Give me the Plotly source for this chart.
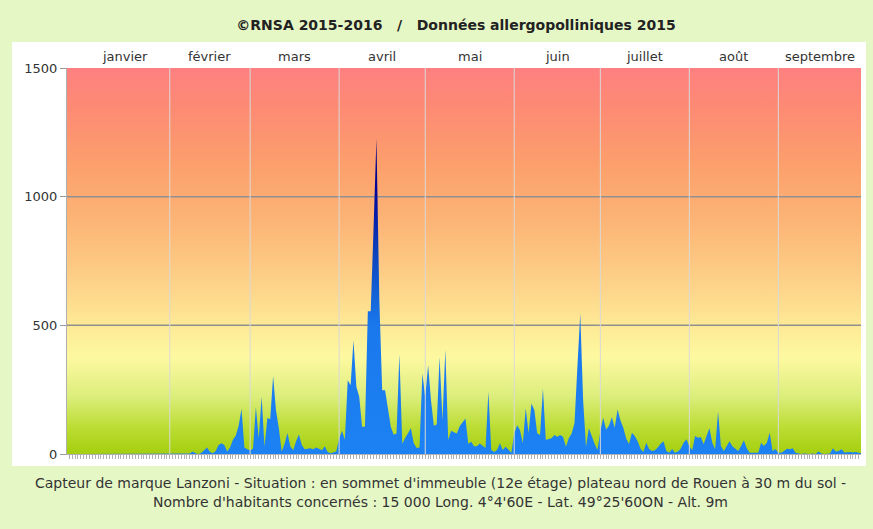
import pandas as pd
import plotly.graph_objects as go

# Daily pollen counts (grains/m3), 2015, one list per month
janvier = [0] * 31
fevrier = [0, 0, 0, 0, 0, 0, 0, 2, 10, 3, 0, 5, 15, 25, 8, 3, 12, 35, 42, 35,
           10, 25, 55, 72, 110, 175, 25, 18]
mars = [15, 20, 183, 60, 222, 28, 140, 135, 303, 170, 100, 10, 40, 82, 30, 15,
        50, 76, 35, 18, 20, 22, 18, 25, 20, 15, 30, 8, 3, 5, 10]
avril = [60, 90, 55, 287, 267, 442, 261, 222, 106, 106, 555, 555, 880, 1225,
         600, 248, 248, 170, 106, 75, 80, 388, 40, 62, 80, 100, 42, 23, 25, 313]
mai = [220, 345, 209, 110, 115, 377, 130, 405, 54, 90, 85, 80, 108, 125, 138,
       40, 48, 30, 30, 41, 30, 23, 242, 16, 8, 16, 42, 16, 28, 18, 5]
juin = [80, 112, 93, 42, 178, 81, 196, 171, 81, 74, 255, 54, 58, 61, 74, 67,
        74, 67, 28, 61, 80, 120, 338, 545, 209, 28, 100, 67, 40, 16]
juillet = [89, 141, 95, 110, 143, 102, 173, 130, 102, 60, 39, 83, 70, 50, 20,
           8, 44, 19, 12, 15, 25, 40, 50, 12, 5, 19, 5, 10, 20, 44, 57]
aout = [30, 15, 70, 63, 66, 38, 70, 100, 44, 18, 164, 31, 12, 31, 50, 30, 19,
        12, 30, 53, 22, 5, 5, 5, 5, 44, 31, 44, 83, 12, 19]
septembre = [5, 5, 12, 20, 18, 22, 5, 2, 0, 2, 0, 0, 2, 0, 10, 2, 0, 2, 2, 22,
             10, 12, 18, 6, 8, 8, 6, 8, 5, 3]

month_names = ["janvier", "février", "mars", "avril", "mai", "juin",
               "juillet", "août", "septembre"]
y_ticks = [0, 500, 1000, 1500]
grid_levels = [500, 1000]

values = (janvier + fevrier + mars + avril + mai + juin + juillet + aout
          + septembre)
days = pd.date_range("2015-01-01", periods=len(values), freq="D")

x_start = pd.Timestamp("2015-01-01") - pd.Timedelta(days=4.8)
x_end = pd.Timestamp("2015-01-01") + pd.Timedelta(days=271.8)

FONT = "DejaVu Sans"
TXT = "#333333"

fig = go.Figure()

# Risk-level gradient behind the data (green -> yellow -> orange -> red)
fig.add_trace(go.Scatter(
    x=[x_start, x_end, x_end, x_start, x_start],
    y=[y_ticks[0], y_ticks[0], y_ticks[-1], y_ticks[-1], y_ticks[0]],
    mode="lines", line=dict(width=0), fill="toself",
    fillgradient=dict(
        type="vertical", start=y_ticks[0], stop=y_ticks[-1],
        colorscale=[
            [0.00, "#a4cf0e"],
            [0.07, "#bcdd34"],
            [0.15, "#dcee7c"],
            [0.25, "#fdf9a0"],
            [0.33, "#feea96"],
            [0.45, "#fdd088"],
            [0.60, "#fcb576"],
            [0.75, "#fc9f6c"],
            [0.90, "#fd8a74"],
            [1.00, "#fe8080"],
        ]),
    hoverinfo="skip", showlegend=False,
))

# Horizontal reference lines
gx, gy = [], []
for lvl in grid_levels:
    gx += [x_start, x_end, None]
    gy += [lvl, lvl, None]
fig.add_trace(go.Scatter(
    x=gx, y=gy, mode="lines", line=dict(color="#8f8f8f", width=1.5),
    hoverinfo="skip", showlegend=False,
))

# Pollen area
fig.add_trace(go.Scatter(
    x=days, y=values, mode="lines", line=dict(width=0, color="#1a7ff0"),
    fill="tozeroy",
    fillgradient=dict(
        type="vertical", start=0, stop=1250,
        colorscale=[
            [0.00, "#1c82f4"],
            [0.40, "#1a78ec"],
            [0.62, "#0c44bc"],
            [0.82, "#00049a"],
            [1.00, "#000080"],
        ]),
    showlegend=False,
))

# Month separators and month names
month_starts = pd.date_range("2015-01-01", periods=len(month_names) + 1,
                             freq="MS")
shapes = [dict(type="rect", xref="paper", yref="paper",
               x0=-0.0693, x1=1.0063, y0=-0.031, y1=1.0674,
               fillcolor="white", line=dict(width=0), layer="below")]
annotations = []
for i, name in enumerate(month_names):
    a = max(month_starts[i], x_start)
    b = min(month_starts[i + 1], x_end)
    if i > 0:
        shapes.append(dict(type="line", xref="x", yref="paper",
                           x0=month_starts[i], x1=month_starts[i],
                           y0=0, y1=1, line=dict(color="#d9d9d9", width=1),
                           layer="above"))
    annotations.append(dict(x=a + (b - a) / 2, y=1.0285, xref="x",
                            yref="paper", text=name, showarrow=False,
                            xanchor="center", yanchor="middle",
                            font=dict(family=FONT, size=13, color=TXT)))

annotations += [
    dict(x=0.4698, y=-0.0751, xref="paper", yref="paper", showarrow=False,
         xanchor="center", yanchor="middle",
         text="Capteur de marque Lanzoni - Situation : en sommet d'immeuble "
              "(12e étage) plateau nord de Rouen à 30 m du sol -",
         font=dict(family=FONT, size=14, color=TXT)),
    dict(x=0.4698, y=-0.1244, xref="paper", yref="paper", showarrow=False,
         xanchor="center", yanchor="middle",
         text="Nombre d'habitants concernés : 15 000 Long. 4°4'60E - "
              "Lat. 49°25'60ON - Alt. 9m",
         font=dict(family=FONT, size=14, color=TXT)),
]

fig.update_layout(
    width=873, height=529,
    margin=dict(l=67, r=12, t=68, b=75),
    paper_bgcolor="#e6f7c6",
    plot_bgcolor="rgba(0,0,0,0)",
    title=dict(
        text="<b>©RNSA 2015-2016\u00a0\u00a0\u00a0/\u00a0\u00a0\u00a0"
             "Données allergopolliniques 2015</b>",
        x=456 / 873, xanchor="center", y=1 - 25 / 529, yanchor="middle",
        font=dict(family=FONT, size=14, color="#222222")),
    shapes=shapes,
    annotations=annotations,
    xaxis=dict(type="date", range=[x_start, x_end], showgrid=False,
               zeroline=False, showticklabels=False, ticks="outside",
               tick0="2015-01-01", dtick=86400000, ticklen=4,
               tickcolor="#b0b0b0", showline=True, linecolor="#b0b0b0"),
    yaxis=dict(range=[y_ticks[0], y_ticks[-1]], tickvals=y_ticks,
               showgrid=False, zeroline=False, ticks="outside", ticklen=6,
               tickcolor="#9a9a9a", showline=True, linecolor="#b0b0b0",
               tickfont=dict(family=FONT, size=13, color=TXT)),
)

fig.write_html("out.html")
